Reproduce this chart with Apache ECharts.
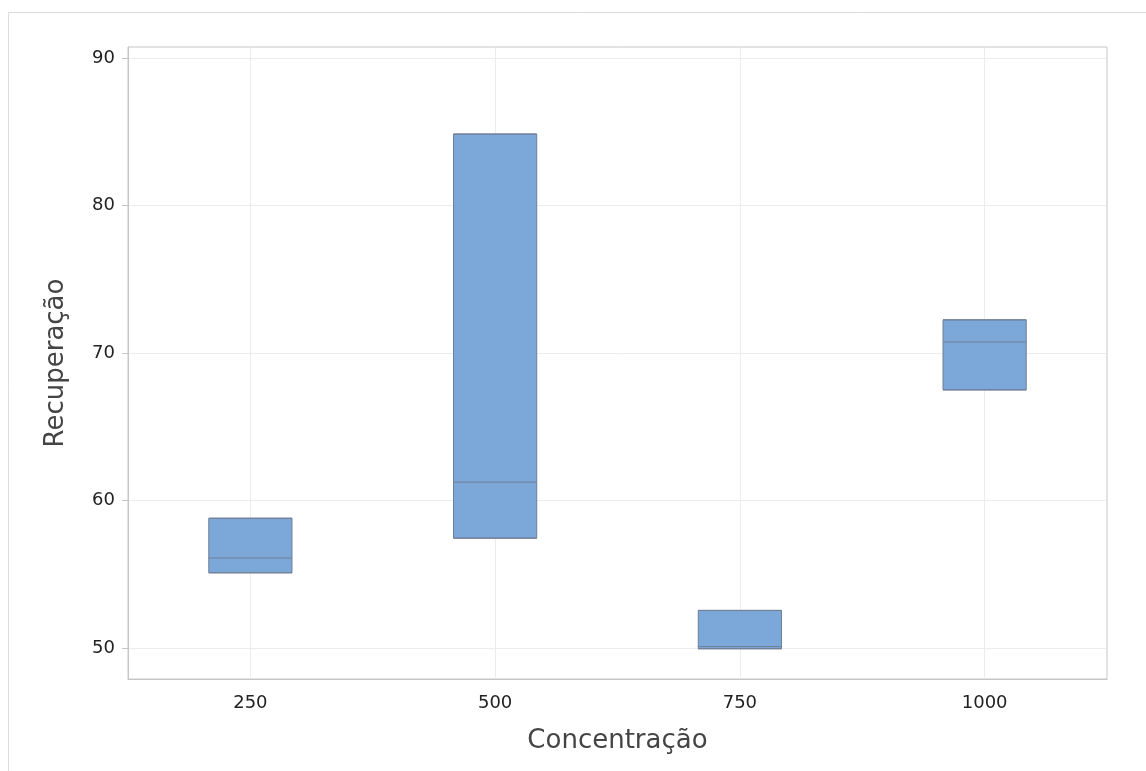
<!DOCTYPE html>
<html>
<head>
<meta charset="utf-8">
<script src="https://cdn.jsdelivr.net/npm/echarts@6/dist/echarts.min.js"></script>
<style>html,body{margin:0;padding:0;background:#fff;}#c{width:1146px;height:771px;}</style>
</head>
<body>
<div id="c"></div>
<script>
const categories = ['250', '500', '750', '1000'];
// [min, Q1, median, Q3, max] — no whiskers in the reference, so min=Q1 and max=Q3
const q1Values = [55.1, 57.45, 49.95, 67.5];
const medianValues = [56.1, 61.25, 50.1, 70.75];
const q3Values = [58.8, 84.85, 52.55, 72.25];
const yTickLabels = [50, 60, 70, 80, 90];

const boxData = categories.map((c, i) => [q1Values[i], q1Values[i], medianValues[i], q3Values[i], q3Values[i]]);

const chart = echarts.init(document.getElementById('c'));
chart.setOption({
  backgroundColor: '#ffffff',
  animation: false,
  textStyle: { fontFamily: 'DejaVu Sans' },
  graphic: [
    { type: 'line', shape: { x1: 8.5, y1: 12.5, x2: 1146, y2: 12.5 }, style: { stroke: '#dcdcdc', lineWidth: 1 } },
    { type: 'line', shape: { x1: 8.5, y1: 12.5, x2: 8.5, y2: 771 }, style: { stroke: '#dcdcdc', lineWidth: 1 } }
  ],
  grid: { left: 128, right: 39, top: 47, bottom: 92, show: true, borderColor: '#c6c6c6', borderWidth: 1, containLabel: false },
  xAxis: {
    type: 'category',
    data: categories,
    boundaryGap: true,
    name: 'Concentração',
    nameLocation: 'middle',
    nameGap: 49,
    nameTextStyle: { fontSize: 26, color: '#444', fontFamily: 'DejaVu Sans' },
    axisLine: { lineStyle: { color: '#c6c6c6' } },
    axisTick: { alignWithLabel: true, length: 6, lineStyle: { color: '#c6c6c6' } },
    axisLabel: { fontSize: 18, color: '#222', margin: 15 },
    splitLine: { show: true, alignWithLabel: true, lineStyle: { color: '#ececec' } }
  },
  yAxis: {
    type: 'value',
    min: 47.9,
    max: 90.75,
    name: 'Recuperação',
    nameLocation: 'middle',
    nameGap: 59,
    nameTextStyle: { fontSize: 26, color: '#444', fontFamily: 'DejaVu Sans' },
    axisLine: { show: true, lineStyle: { color: '#c6c6c6' } },
    axisTick: { show: true, length: 6, customValues: yTickLabels, lineStyle: { color: '#c6c6c6' } },
    axisLabel: { fontSize: 18, color: '#222', margin: 13, customValues: yTickLabels },
    splitLine: { show: true, lineStyle: { color: '#ececec' } }
  },
  series: [{
    type: 'boxplot',
    data: boxData,
    boxWidth: ['34%', '34%'],
    itemStyle: { color: '#7ba7d9', borderColor: '#6f7f96', borderWidth: 1 }
  }]
});
</script>
</body>
</html>
